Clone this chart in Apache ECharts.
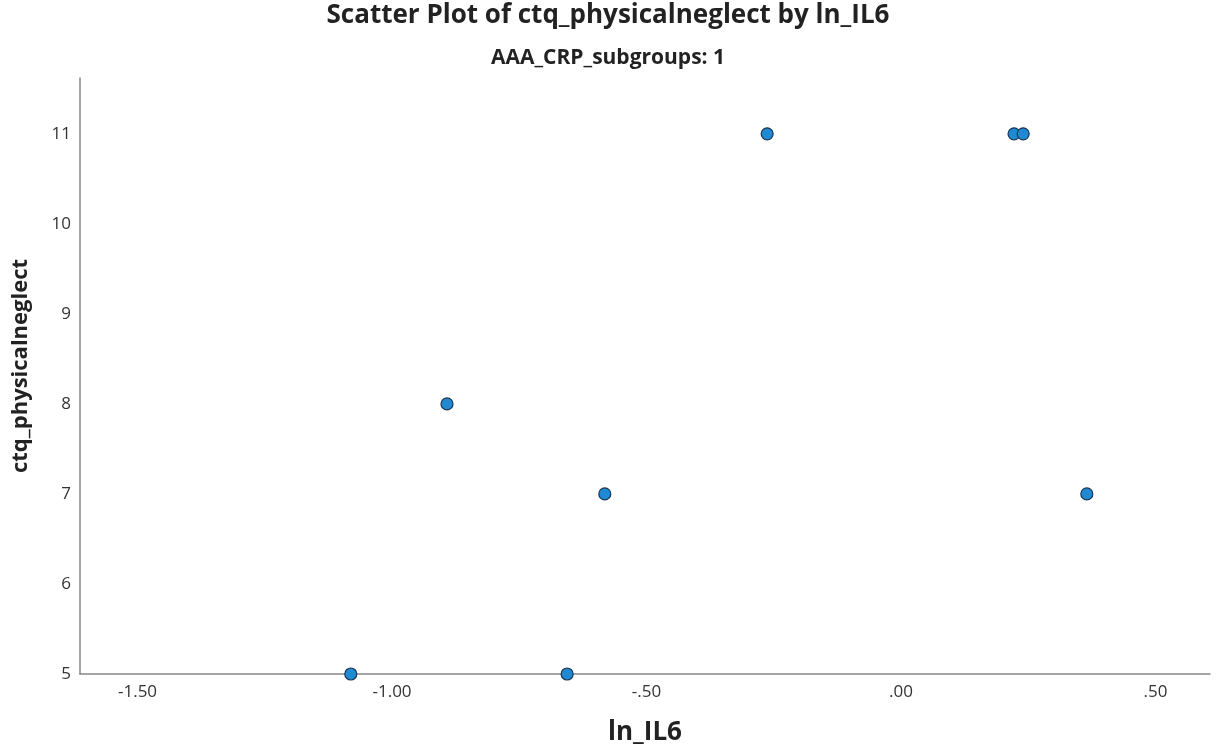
<!DOCTYPE html>
<html>
<head>
<meta charset="utf-8">
<script src="https://cdn.jsdelivr.net/npm/echarts@6/dist/echarts.min.js"></script>
<style>
html,body{margin:0;padding:0;background:#fff;}
#chart{width:1216px;height:753px;}
</style>
</head>
<body>
<div id="chart"></div>
<script>
const titleText = "Scatter Plot of ctq_physicalneglect by ln_IL6";
const subtitleText = "AAA_CRP_subgroups: 1";
const xName = "ln_IL6";
const yName = "ctq_physicalneglect";
const lnIL6 = [-0.263, 0.222, 0.240, -0.892, -0.582, 0.365, -1.081, -0.656];
const ctqPhysicalNeglect = [11, 11, 11, 8, 7, 7, 5, 5];
const xTickValues = [-1.5, -1.0, -0.5, 0.0, 0.5];
const xTickLabels = ["-1.50", "-1.00", "-.50", ".00", ".50"];
const yTickValues = [5, 6, 7, 8, 9, 10, 11];

const points = lnIL6.map((x, i) => [x, ctqPhysicalNeglect[i]]);
const FONT = "'Open Sans', 'DejaVu Sans', sans-serif";

const chart = echarts.init(document.getElementById('chart'), null, {renderer: 'canvas'});
chart.setOption({
  backgroundColor: '#ffffff',
  animation: false,
  title: [
    {text: titleText, left: 'center', top: -2,
     textStyle: {fontFamily: FONT, fontWeight: 'bold', fontSize: 26, color: '#222'}},
    {text: subtitleText, left: 'center', top: 43,
     textStyle: {fontFamily: FONT, fontWeight: 'bold', fontSize: 21, color: '#222'}}
  ],
  grid: {left: 80, right: 6, top: 78, bottom: 79, containLabel: false},
  xAxis: {
    type: 'value', min: -1.613, max: 0.607,
    name: xName, nameLocation: 'middle', nameGap: 46,
    nameTextStyle: {fontFamily: FONT, fontWeight: 'bold', fontSize: 26, color: '#222'},
    axisLine: {show: true, onZero: false, lineStyle: {color: '#888', width: 1.5}},
    axisTick: {show: false},
    splitLine: {show: false},
    axisLabel: {
      customValues: xTickValues,
      fontFamily: FONT, fontSize: 17, color: '#333', margin: 10,
      formatter: v => { const i = xTickValues.findIndex(t => Math.abs(t - v) < 1e-9); return i >= 0 ? xTickLabels[i] : ''; }
    }
  },
  yAxis: {
    type: 'value', min: 5, max: 11.62,
    name: yName, nameLocation: 'middle', nameGap: 48, nameRotate: 90,
    nameTextStyle: {fontFamily: FONT, fontWeight: 'bold', fontSize: 22, color: '#222', padding: [0, 0, 0, 20]},
    axisLine: {show: true, onZero: false, lineStyle: {color: '#888', width: 1.5}},
    axisTick: {show: false},
    splitLine: {show: false},
    axisLabel: {customValues: yTickValues, fontFamily: FONT, fontSize: 17, color: '#333', margin: 9}
  },
  series: [{
    type: 'scatter',
    data: points,
    symbol: 'circle',
    symbolSize: 12,
    itemStyle: {color: '#1f8ad2', borderColor: '#1b3550', borderWidth: 1.2, opacity: 1}
  }]
});
</script>
</body>
</html>
